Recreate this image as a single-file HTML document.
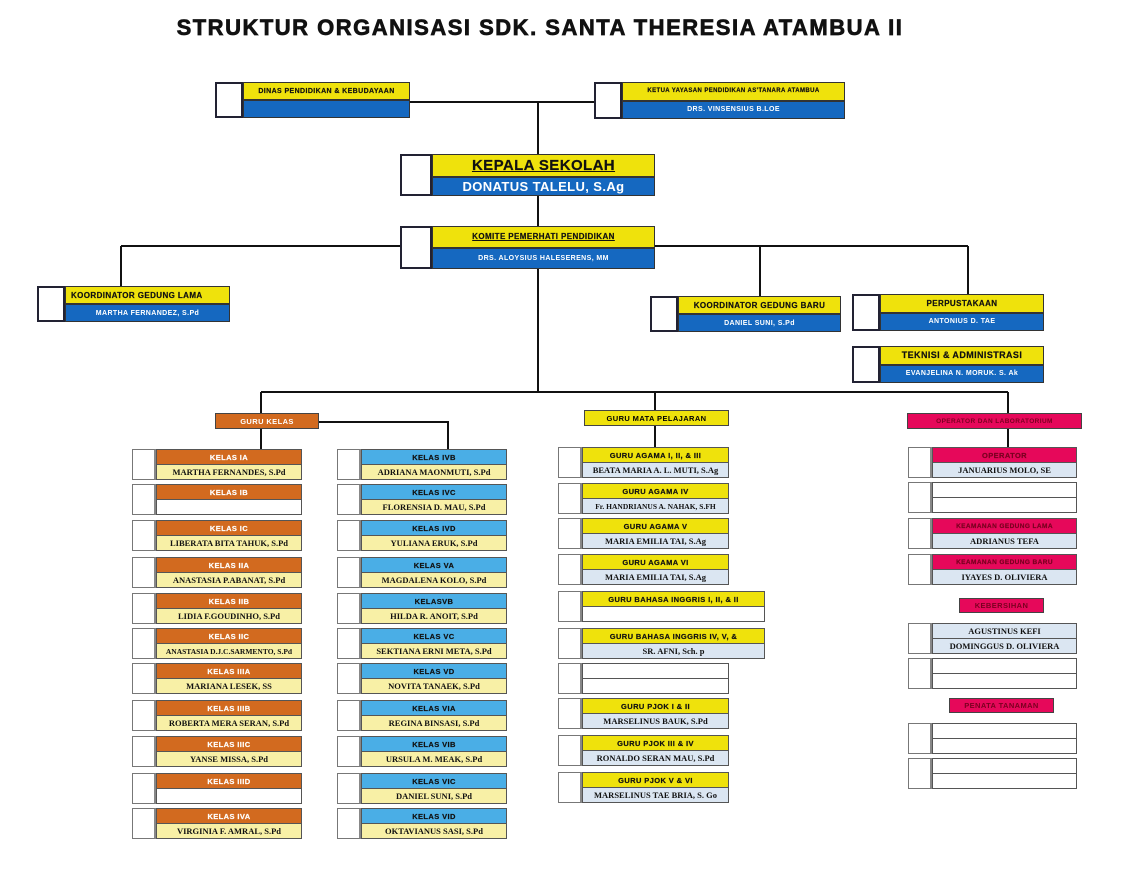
<!DOCTYPE html>
<html><head><meta charset="utf-8"><style>
*{margin:0;padding:0;box-sizing:border-box}
body{width:1132px;height:877px;background:#fff;position:relative;overflow:hidden;font-family:"Liberation Sans",sans-serif}
.t{position:absolute;left:0;width:1080px;top:15px;text-align:center;font-weight:bold;font-size:22px;letter-spacing:1.5px;color:#111;-webkit-text-stroke:0.7px #111}
.r{position:absolute;display:flex;height:31px}
.r>i{width:24px;border:1px solid #777;border-right:2px solid #888;background:#fff;flex:none}
.r>div{flex:1;display:flex;flex-direction:column}
.r b,.r span{flex:1;display:flex;align-items:center;justify-content:center;border:1px solid #555;white-space:nowrap;overflow:hidden}
.r b{font-size:7.5px;font-weight:bold;border-bottom:none;letter-spacing:0.4px;-webkit-text-stroke:0.2px currentColor}
.r span{font-family:"Liberation Serif",serif;font-weight:bold;font-size:8.5px;color:#111}
.o b{background:#d26a1f;color:#fff}.o span{background:#f8f0a6}
.c b{background:#4aaee6;color:#111}.c span{background:#f8f0a6}
.y b{background:#efe20c;color:#111}.y span{background:#dbe6f2}
.p b{background:#e6085a;color:#7a0020}.p span{background:#dbe6f2}
.e b,.e span{background:#fff}
.k>i{border:2px solid #223;width:28px}
.k b{background:#efe20c;color:#111;font-size:7px;border:1px solid #333}
.k span{background:#1568c0;color:#fff;font-family:"Liberation Sans",sans-serif;font-size:7px;border:1px solid #333;letter-spacing:0.4px}
.l{position:absolute;font-weight:bold;font-size:7.5px;display:flex;align-items:center;justify-content:center;border:1px solid #444;height:16px;letter-spacing:0.4px}
</style></head><body>
<div class="t">STRUKTUR ORGANISASI SDK. SANTA THERESIA ATAMBUA II</div>
<svg width="1132" height="877" style="position:absolute;left:0;top:0" fill="none" stroke="#111" stroke-width="2">
<path d="M410 102H594M538 102V154M538 196V226M538 269V392M121 246H968M121 246V286M760 246V296M968 246V294M261 392H1008M261 392V449M655 392V447M1008 392V447M319 422H448V449"/>
</svg>
<div class="r k" style="left:215px;top:82px;width:195px;height:36px"><i></i><div><b>DINAS PENDIDIKAN &amp; KEBUDAYAAN</b><span></span></div></div>
<div class="r k" style="left:594px;top:82px;width:251px;height:37px"><i></i><div><b style="font-size:6px">KETUA YAYASAN PENDIDIKAN AS'TANARA ATAMBUA</b><span>DRS. VINSENSIUS B.LOE</span></div></div>
<div class="r k" style="left:400px;top:154px;width:255px;height:42px"><i style="width:32px"></i><div><b style="font-size:15px;text-decoration:underline;flex:23">KEPALA SEKOLAH</b><span style="font-size:13px;flex:19;font-weight:bold">DONATUS TALELU, S.Ag</span></div></div>
<div class="r k" style="left:400px;top:226px;width:255px;height:43px"><i style="width:32px"></i><div><b style="font-size:8px;text-decoration:underline">KOMITE PEMERHATI PENDIDIKAN</b><span>DRS. ALOYSIUS HALESERENS, MM</span></div></div>
<div class="r k" style="left:37px;top:286px;width:193px;height:36px"><i></i><div><b style="font-size:8px;justify-content:flex-start;padding-left:5px">KOORDINATOR GEDUNG LAMA</b><span>MARTHA FERNANDEZ, S.Pd</span></div></div>
<div class="r k" style="left:650px;top:296px;width:191px;height:36px"><i></i><div><b style="font-size:8px">KOORDINATOR GEDUNG BARU</b><span>DANIEL SUNI, S.Pd</span></div></div>
<div class="r k" style="left:852px;top:294px;width:192px;height:37px"><i></i><div><b style="font-size:8px">PERPUSTAKAAN</b><span>ANTONIUS D. TAE</span></div></div>
<div class="r k" style="left:852px;top:346px;width:192px;height:37px"><i></i><div><b style="font-size:9px">TEKNISI &amp; ADMINISTRASI</b><span>EVANJELINA N. MORUK. S. Ak</span></div></div>

<div class="l" style="left:215px;top:413px;width:104px;background:#d26a1f;color:#fff">GURU KELAS</div>
<div class="l" style="left:584px;top:410px;width:145px;background:#efe20c">GURU MATA PELAJARAN</div>
<div class="l" style="left:907px;top:413px;width:175px;background:#e6085a;color:#7a0020;font-size:6.5px">OPERATOR DAN LABORATORIUM</div>

<div class="r o" style="left:132px;top:449px;width:170px"><i></i><div><b>KELAS IA</b><span>MARTHA FERNANDES, S.Pd</span></div></div>
<div class="r o" style="left:132px;top:484px;width:170px"><i></i><div><b>KELAS IB</b><span style="background:#fff"></span></div></div>
<div class="r o" style="left:132px;top:520px;width:170px"><i></i><div><b>KELAS IC</b><span>LIBERATA BITA TAHUK, S.Pd</span></div></div>
<div class="r o" style="left:132px;top:557px;width:170px"><i></i><div><b>KELAS IIA</b><span>ANASTASIA P.ABANAT, S.Pd</span></div></div>
<div class="r o" style="left:132px;top:593px;width:170px"><i></i><div><b>KELAS IIB</b><span>LIDIA F.GOUDINHO, S.Pd</span></div></div>
<div class="r o" style="left:132px;top:628px;width:170px"><i></i><div><b>KELAS IIC</b><span style="font-size:7.5px">ANASTASIA D.J.C.SARMENTO, S.Pd</span></div></div>
<div class="r o" style="left:132px;top:663px;width:170px"><i></i><div><b>KELAS IIIA</b><span>MARIANA LESEK, SS</span></div></div>
<div class="r o" style="left:132px;top:700px;width:170px"><i></i><div><b>KELAS IIIB</b><span>ROBERTA MERA SERAN, S.Pd</span></div></div>
<div class="r o" style="left:132px;top:736px;width:170px"><i></i><div><b>KELAS IIIC</b><span>YANSE MISSA, S.Pd</span></div></div>
<div class="r o" style="left:132px;top:773px;width:170px"><i></i><div><b>KELAS IIID</b><span style="background:#fff"></span></div></div>
<div class="r o" style="left:132px;top:808px;width:170px"><i></i><div><b>KELAS IVA</b><span>VIRGINIA F. AMRAL, S.Pd</span></div></div>

<div class="r c" style="left:337px;top:449px;width:170px"><i></i><div><b>KELAS IVB</b><span>ADRIANA MAONMUTI, S.Pd</span></div></div>
<div class="r c" style="left:337px;top:484px;width:170px"><i></i><div><b>KELAS IVC</b><span>FLORENSIA D. MAU, S.Pd</span></div></div>
<div class="r c" style="left:337px;top:520px;width:170px"><i></i><div><b>KELAS IVD</b><span>YULIANA ERUK, S.Pd</span></div></div>
<div class="r c" style="left:337px;top:557px;width:170px"><i></i><div><b>KELAS VA</b><span>MAGDALENA KOLO, S.Pd</span></div></div>
<div class="r c" style="left:337px;top:593px;width:170px"><i></i><div><b>KELASVB</b><span>HILDA R. ANOIT, S.Pd</span></div></div>
<div class="r c" style="left:337px;top:628px;width:170px"><i></i><div><b>KELAS VC</b><span>SEKTIANA ERNI META, S.Pd</span></div></div>
<div class="r c" style="left:337px;top:663px;width:170px"><i></i><div><b>KELAS VD</b><span>NOVITA TANAEK, S.Pd</span></div></div>
<div class="r c" style="left:337px;top:700px;width:170px"><i></i><div><b>KELAS VIA</b><span>REGINA BINSASI, S.Pd</span></div></div>
<div class="r c" style="left:337px;top:736px;width:170px"><i></i><div><b>KELAS VIB</b><span>URSULA M. MEAK, S.Pd</span></div></div>
<div class="r c" style="left:337px;top:773px;width:170px"><i></i><div><b>KELAS VIC</b><span>DANIEL SUNI, S.Pd</span></div></div>
<div class="r c" style="left:337px;top:808px;width:170px"><i></i><div><b>KELAS VID</b><span>OKTAVIANUS SASI, S.Pd</span></div></div>

<div class="r y" style="left:558px;top:447px;width:171px"><i></i><div><b>GURU AGAMA I, II, &amp; III</b><span>BEATA MARIA A. L. MUTI, S.Ag</span></div></div>
<div class="r y" style="left:558px;top:483px;width:171px"><i></i><div><b>GURU AGAMA IV</b><span style="font-size:7.5px">Fr. HANDRIANUS A. NAHAK, S.FH</span></div></div>
<div class="r y" style="left:558px;top:518px;width:171px"><i></i><div><b>GURU AGAMA V</b><span>MARIA EMILIA TAI, S.Ag</span></div></div>
<div class="r y" style="left:558px;top:554px;width:171px"><i></i><div><b>GURU AGAMA VI</b><span>MARIA EMILIA TAI, S.Ag</span></div></div>
<div class="r y" style="left:558px;top:591px;width:207px"><i></i><div><b>GURU BAHASA INGGRIS I, II, &amp; II</b><span style="background:#fff"></span></div></div>
<div class="r y" style="left:558px;top:628px;width:207px"><i></i><div><b>GURU BAHASA INGGRIS IV, V, &amp;</b><span>SR. AFNI, Sch. p</span></div></div>
<div class="r e" style="left:558px;top:663px;width:171px"><i></i><div><b></b><span></span></div></div>
<div class="r y" style="left:558px;top:698px;width:171px"><i></i><div><b>GURU PJOK I &amp; II</b><span>MARSELINUS BAUK, S.Pd</span></div></div>
<div class="r y" style="left:558px;top:735px;width:171px"><i></i><div><b>GURU PJOK III &amp; IV</b><span>RONALDO SERAN MAU, S.Pd</span></div></div>
<div class="r y" style="left:558px;top:772px;width:171px"><i></i><div><b>GURU PJOK V &amp; VI</b><span>MARSELINUS TAE BRIA, S. Go</span></div></div>

<div class="r p" style="left:908px;top:447px;width:169px"><i></i><div><b>OPERATOR</b><span>JANUARIUS MOLO, SE</span></div></div>
<div class="r e" style="left:908px;top:482px;width:169px"><i></i><div><b></b><span></span></div></div>
<div class="r p" style="left:908px;top:518px;width:169px"><i></i><div><b style="font-size:6.5px">KEAMANAN GEDUNG LAMA</b><span>ADRIANUS TEFA</span></div></div>
<div class="r p" style="left:908px;top:554px;width:169px"><i></i><div><b style="font-size:6.5px">KEAMANAN GEDUNG BARU</b><span>IYAYES D. OLIVIERA</span></div></div>
<div class="l" style="left:959px;top:598px;width:85px;background:#e6085a;color:#7a0020;height:15px">KEBERSIHAN</div>
<div class="r p" style="left:908px;top:623px;width:169px"><i></i><div><b style="background:#dbe6f2;font-family:'Liberation Serif',serif;font-size:8.5px;color:#111;letter-spacing:0;-webkit-text-stroke:0">AGUSTINUS KEFI</b><span>DOMINGGUS D. OLIVIERA</span></div></div>
<div class="r e" style="left:908px;top:658px;width:169px"><i></i><div><b></b><span></span></div></div>
<div class="l" style="left:949px;top:698px;width:105px;background:#e6085a;color:#7a0020;height:15px">PENATA TANAMAN</div>
<div class="r e" style="left:908px;top:723px;width:169px"><i></i><div><b></b><span></span></div></div>
<div class="r e" style="left:908px;top:758px;width:169px"><i></i><div><b></b><span></span></div></div>
</body></html>
